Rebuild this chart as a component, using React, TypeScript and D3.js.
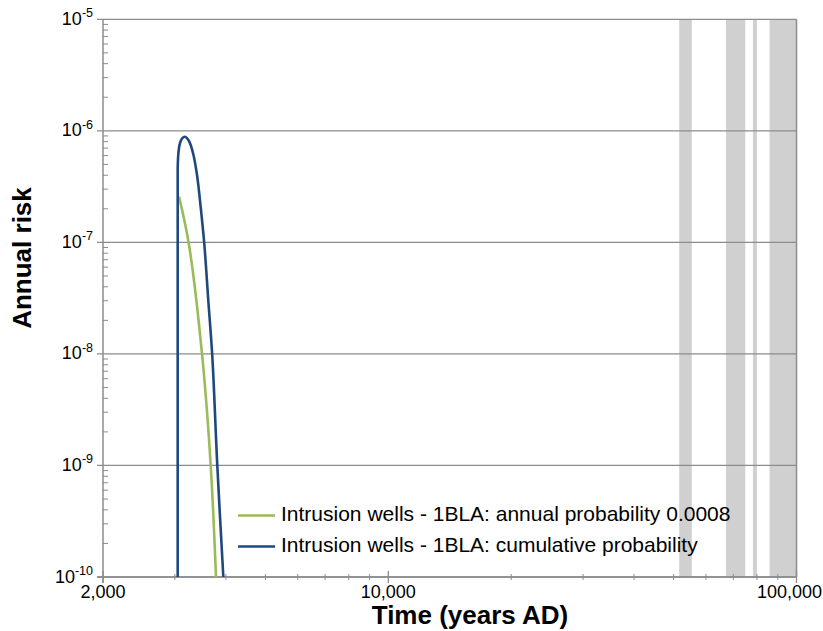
import React from "react";
import * as d3 from "d3";

const W = 823;
const H = 631;
const margin = { left: 103, right: 26.5, top: 19.3, bottom: 54 };

const xDomain = [2000, 100000];
const yDomain = [1e-10, 1e-5];

const xMajorTicks = [2000, 10000, 100000];
const xTickLabels = ["2,000", "10,000", "100,000"];
const yMajorExps = [-10, -9, -8, -7, -6, -5];

// Grey bands (years AD)
const bandStarts = [51600, 67200, 78200, 85900];
const bandEnds = [55400, 74900, 80000, 100000];

// Annual probability 0.0008 series
const greenYears = [3071, 3249, 3502, 3672, 3783];
const greenRisk = [2.57e-7, 9.47e-8, 9.4e-9, 1.0e-9, 1e-10];

// Cumulative probability series
const blueYears = [3048, 3048, 3062, 3088, 3123, 3175, 3248, 3323, 3399, 3466, 3540, 3622, 3706, 3811, 3943];
const blueRisk = [1e-10, 4.64e-7, 6.46e-7, 7.78e-7, 8.53e-7, 8.86e-7, 8.11e-7, 6.33e-7, 4.02e-7, 2.16e-7, 9.87e-8, 3.04e-8, 9.4e-9, 1.0e-9, 1e-10];

const legendLabels = [
  "Intrusion wells - 1BLA: annual probability 0.0008",
  "Intrusion wells - 1BLA: cumulative probability",
];
const GREEN = "#9BBB59";
const BLUE = "#1F497D";

export default function App() {
  const iw = W - margin.left - margin.right;
  const ih = H - margin.top - margin.bottom;
  const x = d3.scaleLog().domain(xDomain).range([margin.left, margin.left + iw]);
  const y = d3.scaleLog().domain(yDomain).range([margin.top + ih, margin.top]);

  const line = d3
    .line<[number, number]>()
    .x((d) => x(d[0]))
    .y((d) => y(d[1]))
    .curve(d3.curveCatmullRom.alpha(0.5));

  const lineLin = d3
    .line<[number, number]>()
    .x((d) => x(d[0]))
    .y((d) => y(d[1]));

  const greenPts = greenYears.map((t, i) => [t, greenRisk[i]] as [number, number]);
  const bluePts = blueYears.map((t, i) => [t, blueRisk[i]] as [number, number]);
  const blueVert = bluePts.slice(0, 2);
  const blueCurve = bluePts.slice(1);

  const xMinor: number[] = [];
  [1000, 10000].forEach((d) => {
    for (let k = 2; k <= 9; k++) {
      const v = d * k;
      if (v > 2000 && v < 100000) xMinor.push(v);
    }
  });
  const yMinor: number[] = [];
  for (let e = -10; e < -5; e++) {
    for (let k = 2; k <= 9; k++) yMinor.push(k * Math.pow(10, e));
  }

  const bottom = margin.top + ih;
  const right = margin.left + iw;
  const font = "Liberation Sans, Arial, sans-serif";

  return (
    <svg width={W} height={H} style={{ position: "absolute", left: 0, top: 0 }} fontFamily={font}>
      <rect x={0} y={0} width={W} height={H} fill="#fff" />
      {bandStarts.map((s, i) => (
        <rect
          key={"b" + i}
          x={x(s)}
          y={margin.top}
          width={x(bandEnds[i]) - x(s)}
          height={ih}
          fill="#d0d0d0"
        />
      ))}
      {yMajorExps.map((e) => (
        <line
          key={"g" + e}
          x1={margin.left - 6}
          x2={right}
          y1={y(Math.pow(10, e))}
          y2={y(Math.pow(10, e))}
          stroke="#8c8c8c"
          strokeWidth={1.3}
        />
      ))}
      {yMinor.map((v, i) => (
        <line key={"ym" + i} x1={margin.left} x2={margin.left + 5} y1={y(v)} y2={y(v)} stroke="#8c8c8c" strokeWidth={1} />
      ))}
      <line x1={right} x2={right} y1={margin.top} y2={bottom} stroke="#8c8c8c" strokeWidth={1.5} />
      <line x1={margin.left} x2={margin.left} y1={margin.top} y2={bottom + 6} stroke="#8c8c8c" strokeWidth={1.5} />
      <line x1={margin.left - 6} x2={right} y1={bottom} y2={bottom} stroke="#8c8c8c" strokeWidth={1.5} />
      {xMinor.map((v, i) => (
        <line key={"xm" + i} x1={x(v)} x2={x(v)} y1={bottom - 3} y2={bottom + 3} stroke="#8c8c8c" strokeWidth={1} />
      ))}
      {xMajorTicks.map((v, i) => (
        <line key={"xM" + i} x1={x(v)} x2={x(v)} y1={bottom - 6} y2={bottom + 6} stroke="#8c8c8c" strokeWidth={1.3} />
      ))}
      {yMajorExps.map((e) => (
        <text key={"yl" + e} x={93} y={y(Math.pow(10, e)) + 5.5} textAnchor="end" fontSize={18} fill="#000">
          10
          <tspan fontSize={12.5} dy={-7.5}>
            {"-" + -e}
          </tspan>
        </text>
      ))}
      {xMajorTicks.map((v, i) => (
        <text
          key={"xl" + i}
          x={i === 2 ? 822 : x(v)}
          y={bottom + 21}
          textAnchor={i === 2 ? "end" : "middle"}
          fontSize={18}
          fill="#000"
        >
          {xTickLabels[i]}
        </text>
      ))}
      <text x={470} y={624} textAnchor="middle" fontSize={26} fontWeight="bold" fill="#000">
        Time (years AD)
      </text>
      <text
        transform={`translate(31,258) rotate(-90)`}
        textAnchor="middle"
        fontSize={26}
        fontWeight="bold"
        fill="#000"
      >
        Annual risk
      </text>
      <path d={line(greenPts) || ""} fill="none" stroke={GREEN} strokeWidth={2.6} />
      <path d={lineLin(blueVert) || ""} fill="none" stroke={BLUE} strokeWidth={2.6} />
      <path d={line(blueCurve) || ""} fill="none" stroke={BLUE} strokeWidth={2.6} strokeLinejoin="round" />
      {legendLabels.map((lab, i) => (
        <g key={"lg" + i}>
          <line
            x1={238}
            x2={275}
            y1={515.5 + i * 31}
            y2={515.5 + i * 31}
            stroke={i === 0 ? GREEN : BLUE}
            strokeWidth={2.6}
          />
          <text x={281} y={521 + i * 31} fontSize={21} fill="#000">
            {lab}
          </text>
        </g>
      ))}
    </svg>
  );
}
